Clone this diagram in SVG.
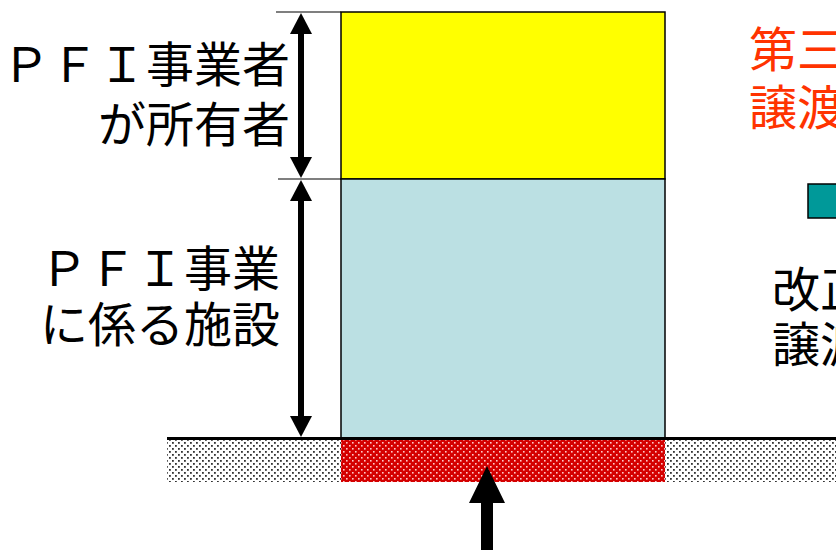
<svg xmlns="http://www.w3.org/2000/svg" width="836" height="550" viewBox="0 0 836 550">
<style>
.lbl{font-family:"Noto Sans CJK JP","Noto Sans CJK SC",sans-serif;font-size:48px;fill:#000}
.org{fill:#FF3300}
.dim{stroke:#000;stroke-width:6;fill:none;marker-start:url(#ah);marker-end:url(#ah)}
.tick{stroke:#000;stroke-width:1.2}
</style>
<defs>
<marker id="ah" markerUnits="userSpaceOnUse" viewBox="0 0 21 22" markerWidth="21" markerHeight="22" refX="1" refY="11" orient="auto-start-reverse">
<path d="M0,0 L21,11 L0,22 Z" fill="#000"/>
</marker>
<pattern id="dots" width="6" height="6" patternUnits="userSpaceOnUse">
<rect width="6" height="6" fill="#fff"/>
<rect x="1" y="1" width="1.8" height="1.8" fill="#333"/>
<rect x="4" y="4" width="1.8" height="1.8" fill="#333"/>
</pattern>
<pattern id="reddots" width="6" height="6" patternUnits="userSpaceOnUse">
<rect width="6" height="6" fill="#D40000"/>
<rect x="1" y="1" width="1.6" height="1.6" fill="#FFC8C8"/>
<rect x="4" y="4" width="1.6" height="1.6" fill="#FFC8C8"/>
</pattern>
</defs>
<g id="ground">
<rect x="167" y="439" width="669" height="43" fill="url(#dots)"/>
<rect x="341" y="439" width="324" height="43" fill="url(#reddots)"/>
</g>
<g id="owner-block">
<rect x="341" y="12" width="324" height="167" fill="#FFFF00" stroke="#000" stroke-width="1.5"/>
</g>
<g id="facility-block">
<rect x="341" y="179" width="324" height="259" fill="#BBE0E3" stroke="#000" stroke-width="1.5"/>
</g>
<g id="ground-line">
<line x1="167" y1="438.5" x2="836" y2="438.5" stroke="#000" stroke-width="3"/>
</g>
<g id="teal-key">
<rect x="808" y="184" width="40" height="34" fill="#009999" stroke="#000" stroke-width="1.5"/>
</g>
<g id="connectors">
<line class="tick" x1="276" y1="12" x2="341" y2="12"/>
<line class="tick" x1="278" y1="179" x2="341" y2="179"/>
<path class="dim" d="M301,33 L301,158"/>
<path class="dim" d="M301,200 L301,417"/>
<path d="M481,550 L481,503 L469,503 L487,466 L505,503 L493,503 L493,550 Z" fill="#000"/>
</g>
<g id="label-owner">
<text class="lbl" x="290" y="82" text-anchor="end">ＰＦＩ事業者</text>
<text class="lbl" x="290" y="142" text-anchor="end">が所有者</text>
</g>
<g id="label-facility">
<text class="lbl" x="280" y="286" text-anchor="end">ＰＦＩ事業</text>
<text class="lbl" x="280" y="342" text-anchor="end">に係る施設</text>
</g>
<g id="label-third">
<text class="lbl org" x="749" y="67">第三</text>
<text class="lbl org" x="749" y="125">譲渡</text>
</g>
<g id="label-revision">
<text class="lbl" x="772" y="307" font-size="44">改正</text>
<text class="lbl" x="772" y="362" font-size="44">譲渡</text>
</g>
</svg>
